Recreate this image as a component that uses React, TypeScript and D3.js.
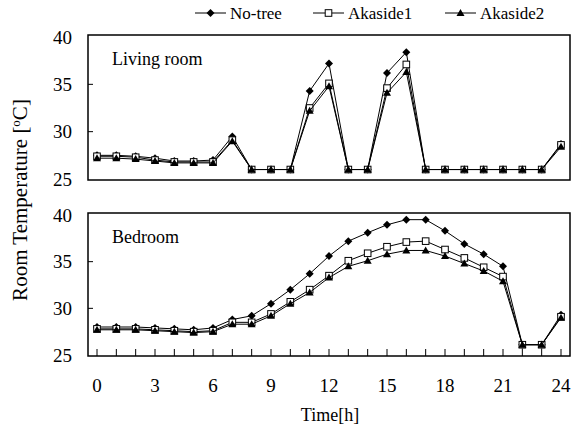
import * as d3 from "d3";

const hours = d3.range(0, 25);
const seriesNames = ["No-tree", "Akaside1", "Akaside2"];

const livingNoTree = [27.5, 27.5, 27.4, 27.2, 26.9, 26.9, 27.0, 29.5, 26, 26, 26, 34.3, 37.2, 26, 26, 36.2, 38.4, 26, 26, 26, 26, 26, 26, 26, 28.7];
const livingAkaside1 = [27.4, 27.4, 27.3, 27.0, 26.8, 26.8, 26.8, 29.1, 26, 26, 26, 32.5, 35.1, 26, 26, 34.6, 37.1, 26, 26, 26, 26, 26, 26, 26, 28.6];
const livingAkaside2 = [27.2, 27.2, 27.1, 26.9, 26.7, 26.7, 26.7, 29.0, 26, 26, 26, 32.2, 34.8, 26, 26, 34.1, 36.3, 26, 26, 26, 26, 26, 26, 26, 28.4];

const bedNoTree = [28.0, 28.0, 28.0, 27.9, 27.8, 27.7, 27.9, 28.8, 29.2, 30.5, 32.0, 33.7, 35.6, 37.2, 38.1, 38.95, 39.5, 39.5, 38.3, 36.9, 35.8, 34.5, 26.1, 26.1, 29.3];
const bedAkaside1 = [27.8, 27.8, 27.8, 27.7, 27.6, 27.5, 27.6, 28.5, 28.5, 29.4, 30.7, 32.0, 33.5, 35.1, 35.9, 36.6, 37.1, 37.2, 36.3, 35.4, 34.4, 33.4, 26.1, 26.1, 29.1];
const bedAkaside2 = [27.7, 27.7, 27.7, 27.6, 27.5, 27.4, 27.5, 28.3, 28.3, 29.2, 30.5, 31.7, 33.3, 34.5, 35.1, 35.8, 36.2, 36.2, 35.6, 34.8, 34.0, 32.9, 26.1, 26.1, 29.0];

const xTicks = [0, 3, 6, 9, 12, 15, 18, 21, 24];
const yTicks = [25, 30, 35, 40];

const FONT = "'Liberation Serif', 'DejaVu Serif', serif";
const W = 577, H = 430;
const left = 88, right = 570;
const x = d3.scaleLinear().domain([0, 24]).range([97, 561]);

function Marker({ kind, cx, cy }: { kind: number; cx: number; cy: number }) {
  if (kind === 0) {
    const s = 4;
    return <path d={`M${cx},${cy - s}L${cx + s},${cy}L${cx},${cy + s}L${cx - s},${cy}Z`} fill="#000" />;
  }
  if (kind === 1) {
    return <rect x={cx - 3.3} y={cy - 3.3} width={6.6} height={6.6} fill="#fff" stroke="#000" strokeWidth={1} />;
  }
  return <path d={`M${cx},${cy - 4}L${cx + 4},${cy + 3}L${cx - 4},${cy + 3}Z`} fill="#000" />;
}

function Panel({ top, bottom, label, data, xticks }: { top: number; bottom: number; label: string; data: number[][]; xticks: boolean }) {
  const y = d3.scaleLinear().domain([25, 40]).range([bottom - 1, top + 2]);
  const line = d3.line<number>().x((_, i) => x(hours[i])).y((d) => y(d));
  return (
    <g>
      <rect x={left} y={top} width={right - left} height={bottom - top} fill="none" stroke="#000" strokeWidth={1.5} />
      {yTicks.map((t) => (
        <g key={t}>
          {t > 25 && t < 40 && <line x1={left} x2={left + 5} y1={y(t)} y2={y(t)} stroke="#000" />}
          <text x={left - 16} y={y(t)} dy="0.35em" textAnchor="end" fontSize={19} fontFamily={FONT}>{t}</text>
        </g>
      ))}
      {xticks && hours.map((h) => (
        <line key={h} x1={x(h)} x2={x(h)} y1={bottom} y2={bottom - 7} stroke="#000" />
      ))}
      <text x={left + 24} y={top + 30} fontSize={18} fontFamily={FONT}>{label}</text>
      {data.map((s, k) => (
        <g key={k}>
          <path d={line(s) ?? ""} fill="none" stroke="#000" strokeWidth={1} />
          {s.map((v, i) => <Marker key={i} kind={k} cx={x(hours[i])} cy={y(v)} />)}
        </g>
      ))}
    </g>
  );
}

export default function App() {
  const legend = [
    { x1: 195, x2: 226 },
    { x1: 313, x2: 344 },
    { x1: 445, x2: 476 },
  ];
  return (
    <svg width={W} height={H} style={{ position: "absolute", left: 0, top: 0, background: "#fff" }}>
      {seriesNames.map((n, k) => (
        <g key={n}>
          <line x1={legend[k].x1} x2={legend[k].x2} y1={13} y2={13} stroke="#000" />
          <Marker kind={k} cx={(legend[k].x1 + legend[k].x2) / 2} cy={13} />
          <text x={legend[k].x2 + 4} y={13} dy="0.35em" fontSize={17} fontFamily={FONT}>{n}</text>
        </g>
      ))}
      <Panel top={35} bottom={180} label="Living room" data={[livingNoTree, livingAkaside1, livingAkaside2]} xticks={false} />
      <Panel top={213} bottom={356} label="Bedroom" data={[bedNoTree, bedAkaside1, bedAkaside2]} xticks={true} />
      {xTicks.map((t) => (
        <text key={t} x={x(t)} y={392} textAnchor="middle" fontSize={19} fontFamily={FONT}>{t}</text>
      ))}
      <text x={330} y={421} textAnchor="middle" fontSize={18} fontFamily={FONT}>Time[h]</text>
      <text transform="translate(27,200) rotate(-90)" textAnchor="middle" fontSize={21} fontFamily={FONT}>
        Room Temperature [<tspan dy={-7} fontSize={13}>o</tspan><tspan dy={7}>C]</tspan>
      </text>
    </svg>
  );
}
